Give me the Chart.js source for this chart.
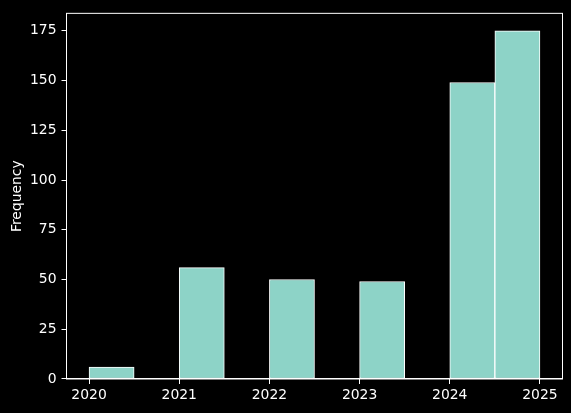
<!DOCTYPE html>
<html>
<head>
<meta charset="utf-8">
<script src="https://cdn.jsdelivr.net/npm/chart.js@4/dist/chart.umd.min.js"></script>
<style>
  html, body { margin: 0; padding: 0; background: #000; }
  #wrap { width: 571px; height: 413px; }
</style>
</head>
<body>
<div id="wrap"><canvas id="histChart" width="571" height="413"></canvas></div>
<script>
// histogram bins (edges 2020 .. 2025, width 0.5)
const binEdges = [2020, 2020.5, 2021, 2021.5, 2022, 2022.5, 2023, 2023.5, 2024, 2024.5, 2025];
const counts = [6, 0, 56, 0, 50, 0, 49, 0, 149, 175];
const xTicks = [2020, 2021, 2022, 2023, 2024, 2025];
const yTicks = [0, 25, 50, 75, 100, 125, 150, 175];

const FONT = { family: 'DejaVu Sans', size: 13.9 };

// bin centres for the bars
const points = counts.map((c, i) => ({ x: (binEdges[i] + binEdges[i + 1]) / 2, y: c }));

// white box around the plot area
const frameBox = {
    id: 'frameBox',
    afterDraw(chart) {
        const a = chart.chartArea;
        const ctx = chart.ctx;
        ctx.save();
        ctx.strokeStyle = '#fff';
        ctx.lineWidth = 1;
        ctx.strokeRect(a.left, a.top, a.right - a.left, a.bottom - a.top);
        ctx.restore();
    }
};

new Chart(document.getElementById('histChart'), {
    type: 'bar',
    data: {
        datasets: [{
            data: points,
            backgroundColor: '#8dd3c7',
            borderColor: '#ffffff',
            borderWidth: 1,
            borderSkipped: false,
            barPercentage: 1,
            categoryPercentage: 1
        }]
    },
    options: {
        responsive: false,
        animation: false,
        layout: { padding: { left: 0, top: 10, right: 8.5, bottom: 0 } },
        plugins: {
            legend: { display: false },
            tooltip: { enabled: false }
        },
        scales: {
            x: {
                type: 'linear',
                offset: false,
                min: 2019.75,
                max: 2025.25,
                afterBuildTicks: s => { s.ticks = xTicks.map(v => ({ value: v })); },
                afterFit: s => { s.height = 34; },
                grid: { offset: false, drawOnChartArea: false, drawTicks: true, tickLength: 5, color: '#fff' },
                border: { color: '#fff' },
                ticks: { color: '#fff', font: FONT, padding: 3, maxRotation: 0, callback: v => String(v) }
            },
            y: {
                min: 0,
                max: 183.75,
                afterBuildTicks: s => { s.ticks = yTicks.map(v => ({ value: v })); },
                afterFit: s => { s.width = 66.5; },
                grid: { drawOnChartArea: false, drawTicks: true, tickLength: 5, color: '#fff' },
                border: { color: '#fff' },
                ticks: { color: '#fff', font: FONT, padding: 5, callback: v => String(v) },
                title: { display: true, text: 'Frequency', color: '#fff', font: FONT, padding: { top: 9, bottom: 0 } }
            }
        }
    },
    plugins: [frameBox]
});
</script>
</body>
</html>
